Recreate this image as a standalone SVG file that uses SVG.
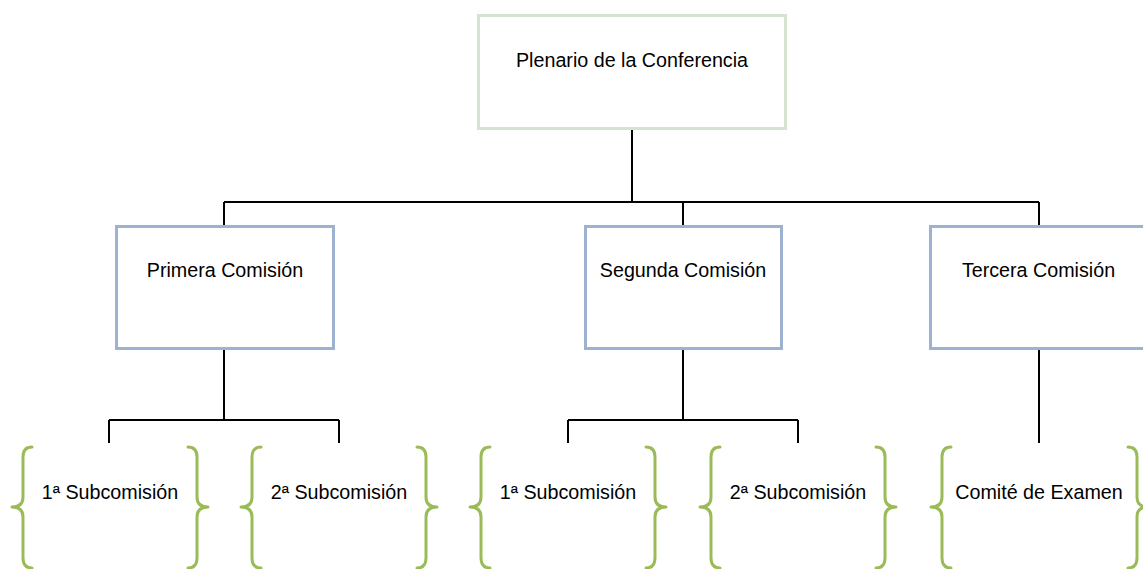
<svg xmlns="http://www.w3.org/2000/svg" width="1143" height="569" viewBox="0 0 1143 569">
<style>
.conn{fill:none;stroke:#000;stroke-width:2}
.top{fill:#fff;stroke:#d6e3cf;stroke-width:3}
.mid{fill:#fff;stroke:#9cb2d0;stroke-width:3}
.brace{fill:none;stroke:#9bbb59;stroke-width:3;stroke-linecap:round;stroke-linejoin:round}
text{font-family:"Liberation Sans",Arial,sans-serif;font-size:19.7px;fill:#000;text-anchor:middle}
</style>
<rect width="1143" height="569" fill="#fff"/>
<g id="connectors">
<path class="conn" d="M632,128V202M224,202H1039M224,202V226M683,202V226M1039,202V226"/>
<path class="conn" d="M224,348V420M109,420H339M109,420V443M339,420V443"/>
<path class="conn" d="M683,348V420M568,420H798M568,420V443M798,420V443"/>
<path class="conn" d="M1039,348V443"/>
</g>
<g id="plenario">
<rect class="top" x="478.5" y="15.5" width="307" height="113"/>
<text x="632" y="67">Plenario de la Conferencia</text>
</g>
<g id="primera">
<rect class="mid" x="116.5" y="226.5" width="217" height="122"/>
<text x="225" y="277">Primera Comisión</text>
</g>
<g id="segunda">
<rect class="mid" x="585.5" y="226.5" width="196" height="122"/>
<text x="683" y="277">Segunda Comisión</text>
</g>
<g id="tercera">
<rect class="mid" x="930.5" y="226.5" width="218" height="122"/>
<text x="1038.5" y="277">Tercera Comisión</text>
</g>
<g id="sub1a">
<path class="brace" d="M32,447Q23,447 23,457V497Q23,507 12,507Q23,507 23,517V558Q23,568 32,568"/>
<path class="brace" d="M188,447Q197,447 197,457V497Q197,507 208,507Q197,507 197,517V558Q197,568 188,568"/>
<text x="110" y="499">1ª Subcomisión</text>
</g>
<g id="sub1b">
<path class="brace" d="M261,447Q252,447 252,457V497Q252,507 241,507Q252,507 252,517V558Q252,568 261,568"/>
<path class="brace" d="M417,447Q426,447 426,457V497Q426,507 437,507Q426,507 426,517V558Q426,568 417,568"/>
<text x="339" y="499">2ª Subcomisión</text>
</g>
<g id="sub2a">
<path class="brace" d="M490,447Q481,447 481,457V497Q481,507 470,507Q481,507 481,517V558Q481,568 490,568"/>
<path class="brace" d="M646,447Q655,447 655,457V497Q655,507 666,507Q655,507 655,517V558Q655,568 646,568"/>
<text x="568" y="499">1ª Subcomisión</text>
</g>
<g id="sub2b">
<path class="brace" d="M720,447Q711,447 711,457V497Q711,507 700,507Q711,507 711,517V558Q711,568 720,568"/>
<path class="brace" d="M876,447Q885,447 885,457V497Q885,507 896,507Q885,507 885,517V558Q885,568 876,568"/>
<text x="798" y="499">2ª Subcomisión</text>
</g>
<g id="comite">
<path class="brace" d="M951,447Q942,447 942,457V497Q942,507 931,507Q942,507 942,517V558Q942,568 951,568"/>
<path class="brace" d="M1128,447Q1137,447 1137,457V497Q1137,507 1148,507Q1137,507 1137,517V558Q1137,568 1128,568"/>
<text x="1039" y="499">Comité de Examen</text>
</g>
</svg>
